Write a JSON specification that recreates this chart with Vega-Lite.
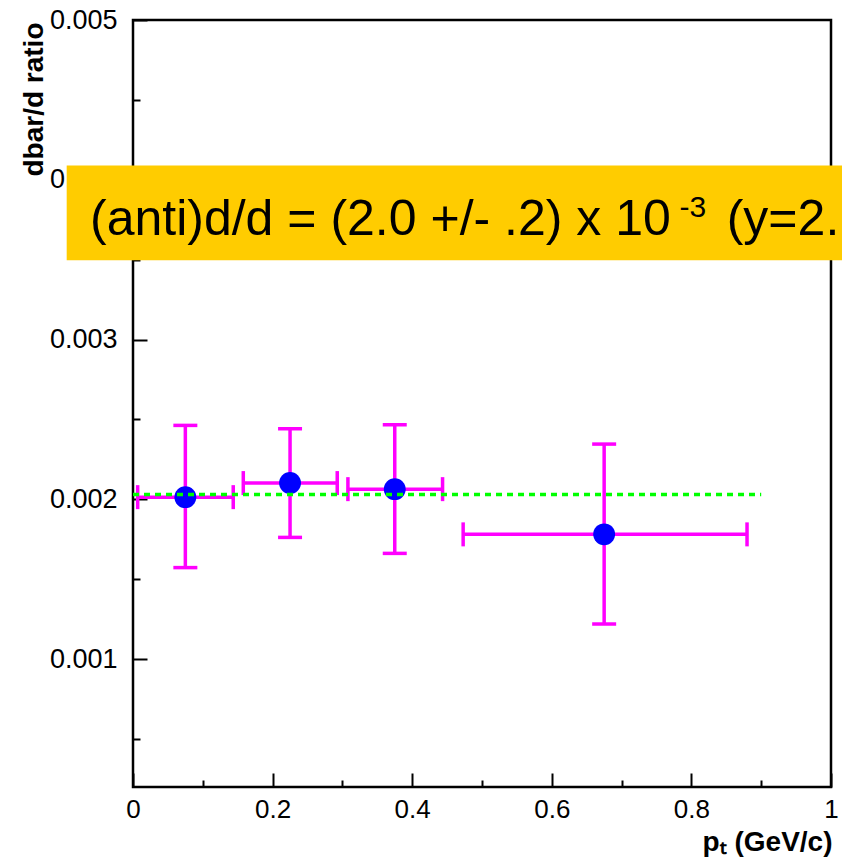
{
  "$schema": "https://vega.github.io/schema/vega-lite/v6.json",
  "width": 698,
  "height": 767,
  "autosize": {"type": "none"},
  "padding": {"left": 133, "top": 20, "right": 11, "bottom": 74},
  "background": "white",
  "config": {
    "font": "Liberation Sans",
    "view": {"stroke": "black", "strokeWidth": 2.5},
    "axis": {"grid": false, "domain": false, "labelFlush": false, "labelColor": "black", "tickColor": "black", "tickWidth": 2, "titleColor": "black", "labelFont": "Liberation Sans", "titleFont": "Liberation Sans"}
  },
  "datasets": {
    "points": [
      {"pt": 0.075, "ratio": 0.002014, "ylo": 0.001573, "yhi": 0.002463, "xlo": 0.0067, "xhi": 0.1436},
      {"pt": 0.225, "ratio": 0.002102, "ylo": 0.001762, "yhi": 0.002442, "xlo": 0.158, "xhi": 0.2926},
      {"pt": 0.375, "ratio": 0.002064, "ylo": 0.001662, "yhi": 0.002467, "xlo": 0.3079, "xhi": 0.4435},
      {"pt": 0.675, "ratio": 0.001781, "ylo": 0.00122, "yhi": 0.002346, "xlo": 0.473, "xhi": 0.8797}
    ],
    "fit": [
      {"pt": 0.0, "ratio": 0.002031},
      {"pt": 0.9, "ratio": 0.002031}
    ],
    "note": [
      {"main": "(anti)d/d = (2.0 +/- .2) x 10", "sup": "-3", "tail": "(y=2."}
    ]
  },
  "layer": [
    {
      "data": {"name": "note"},
      "mark": {"type": "rect", "color": "#ffcc00", "clip": false},
      "encoding": {
        "x": {"datum": -0.095, "type": "quantitative", "scale": {"domain": [0, 1], "nice": false, "zero": false},
          "axis": {
            "values": [0, 0.1, 0.2, 0.3, 0.4, 0.5, 0.6, 0.7, 0.8, 0.9, 1],
            "format": "~g",
            "labelExpr": "round(datum.value*10) % 2 == 1 ? '' : datum.label",
            "tickSize": {"condition": {"test": "round(datum.value*10) % 2 == 1", "value": -7}, "value": -14},
            "labelPadding": 23,
            "labelFontSize": 26,
            "labelBaseline": "top",
            "title": "pₜ (GeV/c)",
            "titleFontSize": 28,
            "titleFontWeight": "bold",
            "titleAnchor": "end",
            "titleAlign": "right",
            "titleBaseline": "alphabetic",
            "titleX": 699,
            "titleY": 63
          }
        },
        "x2": {"datum": 1.02},
        "y": {"datum": 0.00409, "type": "quantitative", "scale": {"domain": [0.0002, 0.005], "nice": false, "zero": false},
          "axis": {
            "values": [0.0005, 0.001, 0.0015, 0.002, 0.0025, 0.003, 0.0035, 0.004, 0.0045, 0.005],
            "labelExpr": "round(datum.value*2000) % 2 == 1 ? '' : format(datum.value, '.3f')",
            "tickSize": {"condition": {"test": "round(datum.value*2000) % 2 == 1", "value": -7}, "value": -14},
            "labelPadding": 30,
            "labelFontSize": 27,
            "title": "dbar/d ratio",
            "titleFontSize": 28,
            "titleFontWeight": "bold",
            "titleAngle": -90,
            "titleAlign": "right",
            "titleBaseline": "alphabetic",
            "titleX": -91,
            "titleY": 2
          }
        },
        "y2": {"datum": 0.003496}
      }
    },
    {
      "data": {"name": "points"},
      "mark": {"type": "rule", "color": "#ff00ff", "strokeWidth": 3.5},
      "encoding": {
        "x": {"field": "pt", "type": "quantitative"},
        "y": {"field": "ylo", "type": "quantitative"},
        "y2": {"field": "yhi"}
      }
    },
    {
      "data": {"name": "points"},
      "mark": {"type": "rule", "color": "#ff00ff", "strokeWidth": 3.5},
      "encoding": {
        "x": {"field": "xlo", "type": "quantitative"},
        "x2": {"field": "xhi"},
        "y": {"field": "ratio", "type": "quantitative"}
      }
    },
    {
      "data": {"name": "points"},
      "mark": {"type": "tick", "color": "#ff00ff", "orient": "horizontal", "size": 24, "thickness": 3.5, "opacity": 1},
      "encoding": {
        "x": {"field": "pt", "type": "quantitative"},
        "y": {"field": "ylo", "type": "quantitative"}
      }
    },
    {
      "data": {"name": "points"},
      "mark": {"type": "tick", "color": "#ff00ff", "orient": "horizontal", "size": 24, "thickness": 3.5, "opacity": 1},
      "encoding": {
        "x": {"field": "pt", "type": "quantitative"},
        "y": {"field": "yhi", "type": "quantitative"}
      }
    },
    {
      "data": {"name": "points"},
      "mark": {"type": "tick", "color": "#ff00ff", "orient": "vertical", "size": 24, "thickness": 3.5, "opacity": 1},
      "encoding": {
        "x": {"field": "xlo", "type": "quantitative"},
        "y": {"field": "ratio", "type": "quantitative"}
      }
    },
    {
      "data": {"name": "points"},
      "mark": {"type": "tick", "color": "#ff00ff", "orient": "vertical", "size": 24, "thickness": 3.5, "opacity": 1},
      "encoding": {
        "x": {"field": "xhi", "type": "quantitative"},
        "y": {"field": "ratio", "type": "quantitative"}
      }
    },
    {
      "data": {"name": "points"},
      "mark": {"type": "circle", "color": "#0000ff", "size": 480, "opacity": 1},
      "encoding": {
        "x": {"field": "pt", "type": "quantitative"},
        "y": {"field": "ratio", "type": "quantitative"}
      }
    },
    {
      "data": {"name": "fit"},
      "mark": {"type": "line", "color": "#00ff00", "strokeWidth": 3.5, "strokeDash": [6, 5]},
      "encoding": {
        "x": {"field": "pt", "type": "quantitative"},
        "y": {"field": "ratio", "type": "quantitative"}
      }
    },
    {
      "data": {"name": "note"},
      "mark": {"type": "text", "align": "left", "baseline": "alphabetic", "fontSize": 50, "font": "Liberation Sans", "color": "black", "clip": false},
      "encoding": {
        "x": {"datum": -0.0616, "type": "quantitative"},
        "y": {"datum": 0.003652, "type": "quantitative"},
        "text": {"field": "main"}
      }
    },
    {
      "data": {"name": "note"},
      "mark": {"type": "text", "align": "left", "baseline": "alphabetic", "fontSize": 30, "font": "Liberation Sans", "color": "black", "clip": false},
      "encoding": {
        "x": {"datum": 0.783, "type": "quantitative"},
        "y": {"datum": 0.003765, "type": "quantitative"},
        "text": {"field": "sup"}
      }
    },
    {
      "data": {"name": "note"},
      "mark": {"type": "text", "align": "left", "baseline": "alphabetic", "fontSize": 50, "font": "Liberation Sans", "color": "black", "clip": false},
      "encoding": {
        "x": {"datum": 0.8506, "type": "quantitative"},
        "y": {"datum": 0.003652, "type": "quantitative"},
        "text": {"field": "tail"}
      }
    }
  ]
}
